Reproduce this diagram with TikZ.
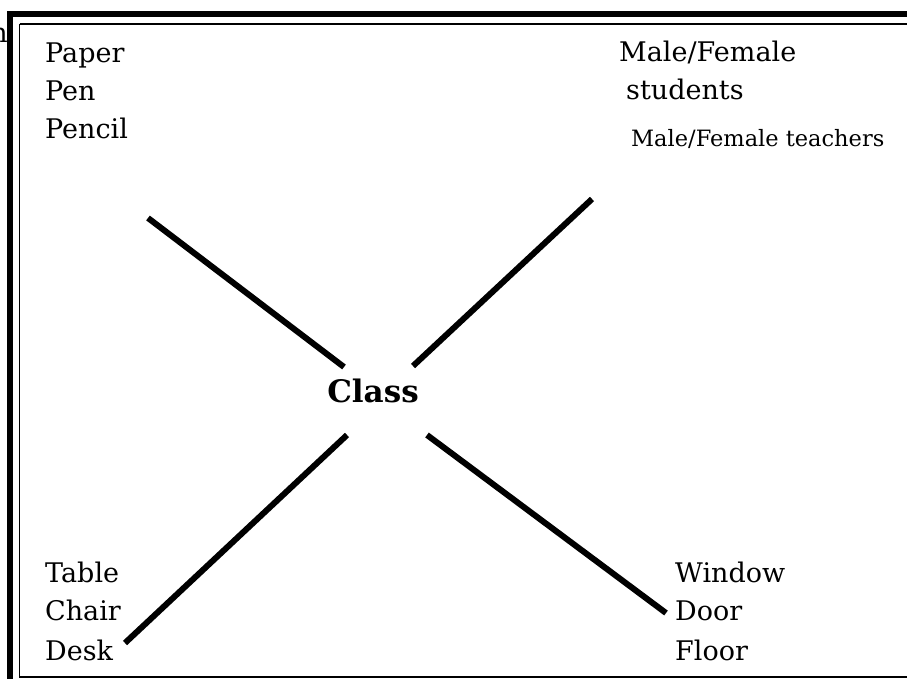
\documentclass[tikz,border=0pt]{standalone}
\usepackage{fontspec}
\setmainfont{DejaVu Serif}
\begin{document}
\begin{tikzpicture}[x=1pt,y=-1pt,
  lbl/.style={anchor=base west,inner sep=0pt,font=\fontsize{27}{32}\selectfont},
  sml/.style={anchor=base west,inner sep=0pt,font=\fontsize{22.5}{27}\selectfont},
  conn/.style={line width=6pt,line cap=butt},
  thick band/.style={line width=6.5pt},
  thin frame/.style={line width=1.3pt}]
\useasboundingbox (0,0) rectangle (907,679);
\fill[white] (0,0) rectangle (907,679);
% clipped fragment at the left edge
\node[lbl,anchor=base east] (frag) at (8,43) {n};
% frame
\draw[thick band] (10,679) -- (10,14) -- (907,14);
\draw[thin frame] (19.5,24) -- (19.5,677) -- (907,677);
\draw[thin frame] (19.5,24) -- (907,24);
% texts
\node[lbl] (paper) at (45,63) {Paper};
\node[lbl] (pen) at (45,101) {Pen};
\node[lbl] (pencil) at (45,139) {Pencil};
\node[lbl] (mf) at (619,62) {Male/Female};
\node[lbl] (stud) at (626,100) {students};
\node[sml] (teach) at (631,147) {Male/Female teachers};
\node[lbl] (table) at (45,582) {Table};
\node[lbl] (chair) at (45,620) {Chair};
\node[lbl] (desk) at (45,660) {Desk};
\node[lbl] (window) at (675,582) {Window};
\node[lbl] (door) at (675,620) {Door};
\node[lbl] (floor) at (675,660) {Floor};
\node[inner sep=0pt,font=\fontsize{31}{35}\bfseries\selectfont] (class) at (373,391) {Class};
% connector end points
\coordinate (a1) at (148,218);
\coordinate (a2) at (344,367);
\coordinate (b1) at (592,199);
\coordinate (b2) at (413,366);
\coordinate (c1) at (347,435);
\coordinate (c2) at (125,643);
\coordinate (d1) at (427,435);
\coordinate (d2) at (666,613);
\draw[conn] (a1) -- (a2);
\draw[conn] (b1) -- (b2);
\draw[conn] (c1) -- (c2);
\draw[conn] (d1) -- (d2);
\end{tikzpicture}
\end{document}
